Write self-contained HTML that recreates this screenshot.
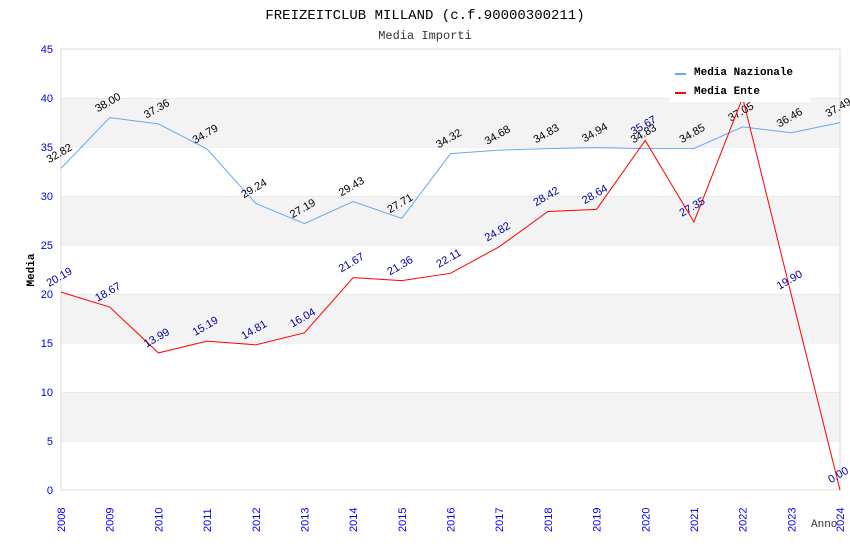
<!DOCTYPE html>
<html><head><meta charset="utf-8"><style>
body{margin:0;background:#fff;width:850px;height:550px;overflow:hidden}
svg text{font-family:"Liberation Sans",sans-serif}
.mono{font-family:"Liberation Mono",monospace}
</style></head><body>
<svg id="c" width="850" height="550">
<text class="mono" x="425" y="19" text-anchor="middle" font-size="14" fill="#000">FREIZEITCLUB MILLAND (c.f.90000300211)</text>
<text class="mono" x="425" y="39" text-anchor="middle" font-size="12" fill="#333">Media Importi</text>
<g id="bands"></g><g id="axes"></g><g id="series"></g>
<text class="mono" x="34" y="270" transform="rotate(-90 34 270)" text-anchor="middle" font-size="11" font-weight="bold">Media</text>
<text class="mono" x="811" y="527" font-size="11" fill="#333">Anno</text>
<g id="legend">
<rect x="670" y="60" width="140" height="42" fill="#fff"/>
<line x1="675" y1="74" x2="686" y2="74" stroke="#66aaee" stroke-width="2"/>
<text class="mono" x="694" y="75" font-size="11" font-weight="bold">Media Nazionale</text>
<line x1="675" y1="93" x2="686" y2="93" stroke="#ff0000" stroke-width="2"/>
<text class="mono" x="694" y="94" font-size="11" font-weight="bold">Media Ente</text>
</g>
</svg>
<script>
const years=[2008,2009,2010,2011,2012,2013,2014,2015,2016,2017,2018,2019,2020,2021,2022,2023,2024];
const nazionale=[32.82,38.00,37.36,34.79,29.24,27.19,29.43,27.71,34.32,34.68,34.83,34.94,34.83,34.85,37.05,36.46,37.49];
const ente=[20.19,18.67,13.99,15.19,14.81,16.04,21.67,21.36,22.11,24.82,28.42,28.64,35.67,27.35,40.03,19.90,0.00];
const yTicks=[0,5,10,15,20,25,30,35,40,45];
const NS='http://www.w3.org/2000/svg';
const X0=61,X1=840,Y0=490,Y1=49;
const xs=i=>X0+(X1-X0)*i/(years.length-1);
const ys=v=>Y0-(Y0-Y1)*v/45;
function mk(t,a,p){const e=document.createElementNS(NS,t);for(const k in a)e.setAttribute(k,a[k]);p.appendChild(e);return e;}
const bands=document.getElementById('bands'),axes=document.getElementById('axes'),ser=document.getElementById('series');
for(let i=0;i<yTicks.length-1;i++){
  const r=mk('rect',{x:X0,y:ys(yTicks[i+1]),width:X1-X0,height:ys(yTicks[i])-ys(yTicks[i+1]),fill:i%2===1?'#f3f3f3':'#fff'},bands);
  
  
  mk('line',{x1:X0,x2:X1,y1:ys(yTicks[i+1]),y2:ys(yTicks[i+1]),stroke:'#e2e2e2'},bands);
}
const fr=mk('rect',{x:X0,y:Y1,width:X1-X0,height:Y0-Y1,fill:'none',stroke:'#d8d8d8'},axes);


yTicks.forEach(t=>{
  const e=mk('text',{x:X0-8,y:ys(t)+4,'text-anchor':'end','font-size':11,fill:'#0000ee'},axes);
  e.textContent=t;
  
  
});
years.forEach((y,i)=>{
  const x=xs(i)+4,yy=532;
  const e=mk('text',{x:x,y:yy,transform:`rotate(-90 ${x} ${yy})`,'font-size':11,fill:'#0000ee'},axes);
  e.textContent=y;
  
  
});
function series(vals,color,lblColor,name){
  const pl=mk('polyline',{points:vals.map((v,i)=>xs(i)+','+ys(v)).join(' '),fill:'none',stroke:color,'stroke-width':1},ser);
  
  
  vals.forEach((v,i)=>{
    const x=xs(i),y=ys(v)-12;
    const t=mk('text',{x:x,y:y,transform:`rotate(-30 ${x} ${y})`,'text-anchor':'middle','font-size':11,fill:lblColor},ser);
    t.textContent=v.toFixed(2);
    
    
  });
}
series(nazionale,'#66aaee','#000','nazionale');
series(ente,'#ff0000','#000099','ente');
document.getElementById('c').appendChild(document.getElementById('legend'));
</script>
</body></html>
